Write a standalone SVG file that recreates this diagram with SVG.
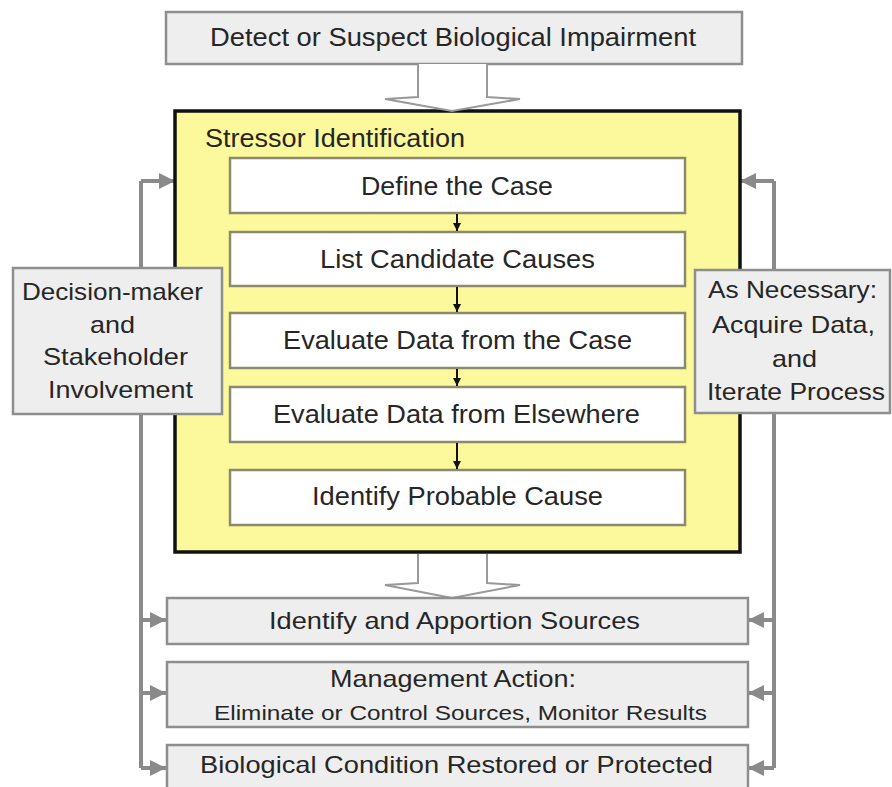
<svg xmlns="http://www.w3.org/2000/svg" width="892" height="787" viewBox="0 0 892 787">
<defs>
<style>
text{font-family:"Liberation Sans",Arial,sans-serif;fill:#262626;}
.t{font-size:25px;}
.s{font-size:24px;}
.m{font-size:21px;}
.gray{fill:#eeeeee;stroke:#8e8e8e;stroke-width:2.5;}
.inner{fill:#ffffff;stroke:#8c8a6e;stroke-width:2.5;}
.conn{stroke:#8a8a8a;stroke-width:4;fill:none;}
.blk{stroke:#111;stroke-width:2;fill:none;}
.block{fill:#ffffff;stroke:#999999;stroke-width:2;stroke-linejoin:miter;}
</style>
<marker id="gh" viewBox="0 0 10 10" refX="10" refY="5" markerUnits="userSpaceOnUse" markerWidth="17" markerHeight="16" orient="auto">
<path d="M0,0 L10,5 L0,10 z" fill="#8a8a8a"/>
</marker>
<marker id="bh" viewBox="0 0 10 10" refX="10" refY="5" markerUnits="userSpaceOnUse" markerWidth="8" markerHeight="8" orient="auto">
<path d="M0,0 L10,5 L0,10 z" fill="#111"/>
</marker>
</defs>
<rect width="892" height="787" fill="#ffffff"/>

<g id="connectors">
<path class="conn" d="M141 181 V768"/>
<path class="conn" d="M141 181 H175" marker-end="url(#gh)"/>
<path class="conn" d="M141 620 H166" marker-end="url(#gh)"/>
<path class="conn" d="M141 693 H166" marker-end="url(#gh)"/>
<path class="conn" d="M141 768 H166" marker-end="url(#gh)"/>
<path class="conn" d="M774 181 V768"/>
<path class="conn" d="M774 181 H740" marker-end="url(#gh)"/>
<path class="conn" d="M774 620 H748" marker-end="url(#gh)"/>
<path class="conn" d="M774 693 H748" marker-end="url(#gh)"/>
<path class="conn" d="M774 768 H748" marker-end="url(#gh)"/>
</g>

<g id="top-box">
<rect class="gray" x="166" y="12" width="576" height="52"/>
<text class="t" x="210" y="46" textLength="486" lengthAdjust="spacingAndGlyphs">Detect or Suspect Biological Impairment</text>
</g>

<g id="stressor-identification">
<rect x="175" y="111" width="565" height="441" fill="#fcf89c" stroke="#111" stroke-width="3.5"/>
<text class="t" x="205" y="147" textLength="260" lengthAdjust="spacingAndGlyphs">Stressor Identification</text>
</g>

<g id="top-arrow">
<path class="block" d="M418 64 V97 L385 99 L452 111 L520 99 L487 97 V64"/>
</g>

<g id="define-case">
<rect class="inner" x="230" y="158" width="455" height="55"/>
<text class="t" x="361" y="195" textLength="192" lengthAdjust="spacingAndGlyphs">Define the Case</text>
</g>
<g id="list-causes">
<rect class="inner" x="230" y="232" width="455" height="54"/>
<text class="t" x="320" y="268" textLength="275" lengthAdjust="spacingAndGlyphs">List Candidate Causes</text>
</g>
<g id="eval-case">
<rect class="inner" x="230" y="313" width="455" height="55"/>
<text class="t" x="283" y="349" textLength="349" lengthAdjust="spacingAndGlyphs">Evaluate Data from the Case</text>
</g>
<g id="eval-elsewhere">
<rect class="inner" x="230" y="387" width="455" height="55"/>
<text class="t" x="273" y="423" textLength="367" lengthAdjust="spacingAndGlyphs">Evaluate Data from Elsewhere</text>
</g>
<g id="probable-cause">
<rect class="inner" x="230" y="470" width="455" height="55"/>
<text class="t" x="312" y="505" textLength="291" lengthAdjust="spacingAndGlyphs">Identify Probable Cause</text>
</g>

<g id="inner-connectors">
<path class="blk" d="M457 214 V231" marker-end="url(#bh)"/>
<path class="blk" d="M457 287 V312" marker-end="url(#bh)"/>
<path class="blk" d="M457 369 V386" marker-end="url(#bh)"/>
<path class="blk" d="M457 443 V469" marker-end="url(#bh)"/>
</g>

<g id="decision-maker">
<rect class="gray" x="13" y="268" width="209" height="146"/>
<text class="s" x="22" y="300" textLength="181" lengthAdjust="spacingAndGlyphs">Decision-maker</text>
<text class="s" x="90" y="333" textLength="45" lengthAdjust="spacingAndGlyphs">and</text>
<text class="s" x="43" y="365" textLength="145" lengthAdjust="spacingAndGlyphs">Stakeholder</text>
<text class="s" x="48" y="398" textLength="145" lengthAdjust="spacingAndGlyphs">Involvement</text>
</g>

<g id="as-necessary">
<rect class="gray" x="695" y="270" width="195" height="143"/>
<text class="s" x="708" y="298" textLength="169" lengthAdjust="spacingAndGlyphs">As Necessary:</text>
<text class="s" x="712" y="333" textLength="163" lengthAdjust="spacingAndGlyphs">Acquire Data,</text>
<text class="s" x="772" y="367" textLength="45" lengthAdjust="spacingAndGlyphs">and</text>
<text class="s" x="707" y="400" textLength="178" lengthAdjust="spacingAndGlyphs">Iterate Process</text>
</g>

<g id="bottom-arrow">
<path class="block" d="M418 554 V583 L385 585 L452 598 L520 585 L487 583 V554"/>
</g>

<g id="apportion-sources">
<rect class="gray" x="167" y="598" width="581" height="46"/>
<text class="s" x="269" y="629" textLength="371" lengthAdjust="spacingAndGlyphs">Identify and Apportion Sources</text>
</g>

<g id="management-action">
<rect class="gray" x="167" y="662" width="581" height="65"/>
<text class="s" x="330" y="687" textLength="246" lengthAdjust="spacingAndGlyphs">Management Action:</text>
<text class="m" x="214" y="720" textLength="493" lengthAdjust="spacingAndGlyphs">Eliminate or Control Sources,  Monitor Results</text>
</g>

<g id="condition-restored">
<rect class="gray" x="167" y="745" width="581" height="50"/>
<text class="s" x="200" y="773" textLength="513" lengthAdjust="spacingAndGlyphs">Biological Condition Restored or Protected</text>
</g>
</svg>
